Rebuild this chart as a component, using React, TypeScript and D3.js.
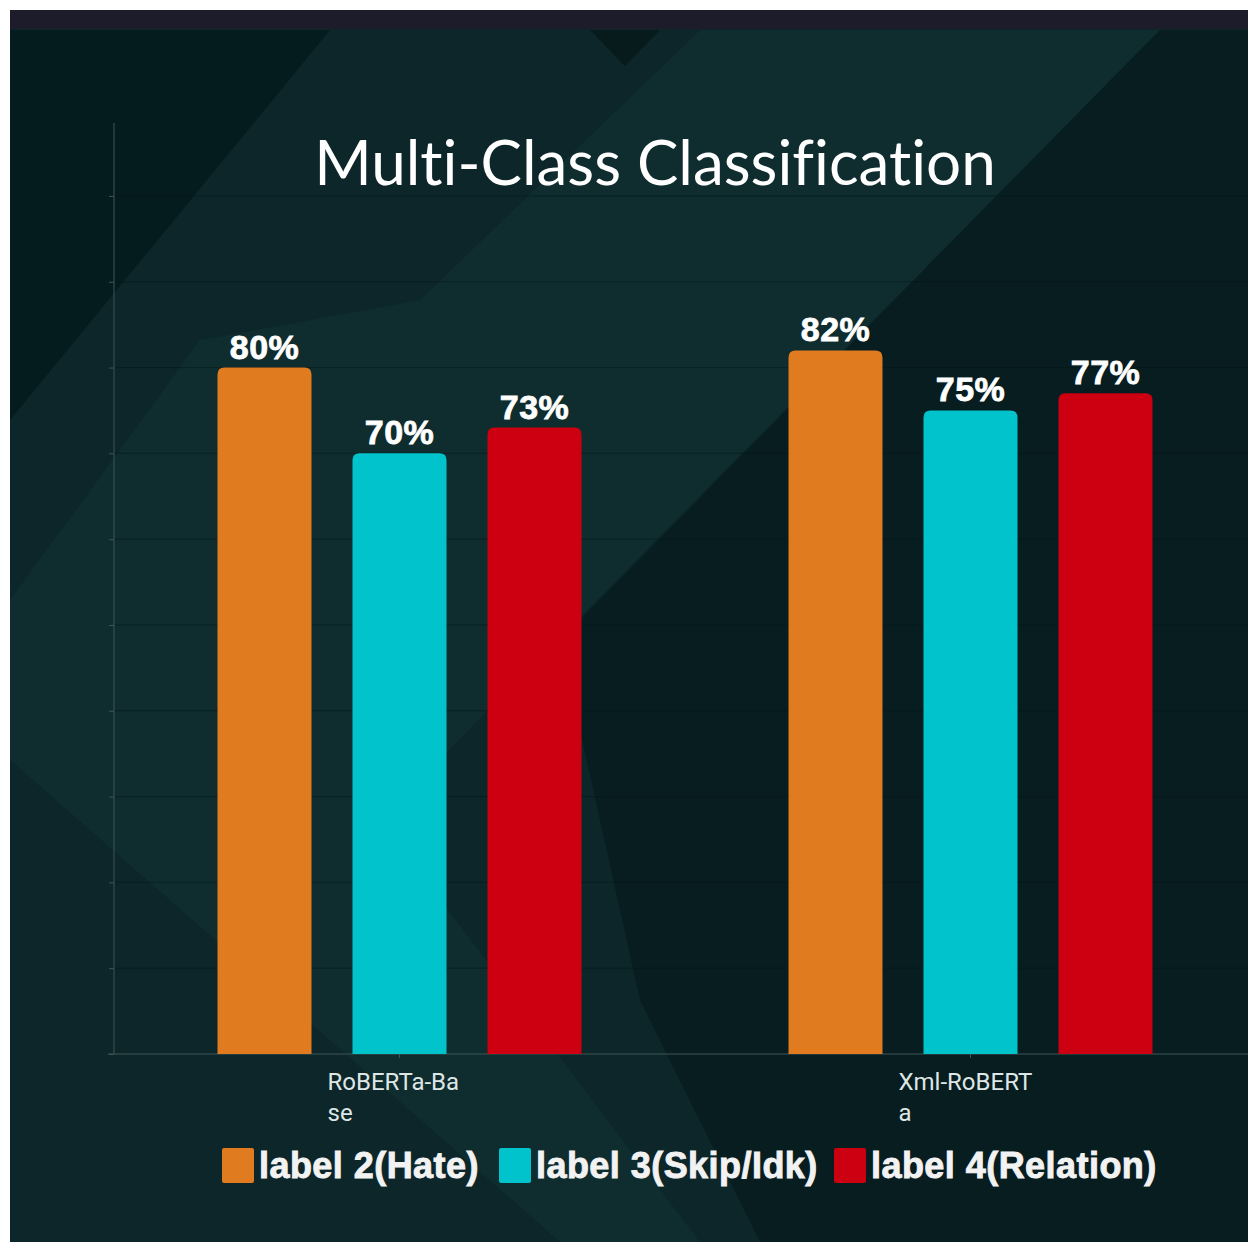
import React, { useEffect, useRef } from 'react';
import * as d3 from 'd3';

// chart data
const models = ['RoBERTa-Base', 'Xml-RoBERTa'];
const modelLines = [['RoBERTa-Ba', 'se'], ['Xml-RoBERT', 'a']];
const seriesNames = ['label 2(Hate)', 'label 3(Skip/Idk)', 'label 4(Relation)'];
const seriesColors = ['#e07b20', '#00c3cc', '#cc0010'];
const hateVals = [80, 82];
const skipVals = [70, 75];
const relationVals = [73, 77];
const yTicks = [0, 10, 20, 30, 40, 50, 60, 70, 80, 90, 100];

const W = 1253;
const H = 1244;

export default function App() {
  const ref = useRef<SVGSVGElement>(null);

  useEffect(() => {
    const svg = d3.select(ref.current);
    svg.selectAll('*').remove();

    // white page + dark slide background
    svg.append('rect').attr('width', W).attr('height', H).attr('fill', '#ffffff');
    const bg = svg.append('g');
    bg.append('rect').attr('x', 10).attr('y', 10).attr('width', 1238).attr('height', 1232).attr('fill', '#0c2629');
    // slightly lighter diagonal band
    bg.append('polygon')
      .attr('points', '10,600 10,760 560,1242 700,1242 380,820 1160,30 700,30 420,300 200,340')
      .attr('fill', '#102e30').attr('opacity', 0.8);
    // darker corners
    bg.append('polygon').attr('points', '10,30 330,30 10,420').attr('fill', '#051c1e');
    bg.append('polygon')
      .attr('points', '1160,30 1248,30 1248,1242 760,1242 640,1000 560,640')
      .attr('fill', '#071d20');
    bg.append('polygon').attr('points', '590,30 660,30 625,66').attr('fill', '#071a1c');
    bg.append('rect').attr('x', 10).attr('y', 10).attr('width', 1238).attr('height', 19).attr('fill', '#1c1c2a');

    const left = 114;
    const bottom = 1054;
    const x0 = d3.scaleBand<string>().domain(models).range([left, 1256]);
    const y = d3.scaleLinear().domain([0, 108.5]).range([bottom, 123]);
    const step = 135;
    const barW = 94;

    // gridlines
    bg.append('g').selectAll('line').data(yTicks.slice(1)).join('line')
      .attr('x1', left).attr('x2', 1248)
      .attr('y1', d => y(d)).attr('y2', d => y(d))
      .attr('stroke', '#041618').attr('stroke-width', 1).attr('opacity', 0.45);

    // y axis
    const yAxis = svg.append('g').attr('transform', `translate(${left},0)`)
      .call(d3.axisLeft(y).tickValues(yTicks).tickSize(5).tickFormat(() => ''));
    yAxis.select('.domain').attr('stroke', '#3f5557').attr('d', `M0,123V${bottom}`);
    yAxis.selectAll('.tick line').attr('stroke', '#3f5557');

    // x axis
    const xAxis = svg.append('g').attr('transform', `translate(0,${bottom})`)
      .call(d3.axisBottom(x0).tickSize(4).tickFormat(() => ''));
    xAxis.select('.domain').attr('stroke', '#3f5557').attr('d', `M${left - 6},0H1248`);
    xAxis.selectAll('.tick line').attr('stroke', '#3f5557');

    const series = [hateVals, skipVals, relationVals];
    const roundTop = (x: number, yt: number, w: number, h: number, r: number) =>
      `M${x},${yt + h}V${yt + r}Q${x},${yt} ${x + r},${yt}H${x + w - r}Q${x + w},${yt} ${x + w},${yt + r}V${yt + h}Z`;

    models.forEach((m, i) => {
      const cx = (x0(m) as number) + x0.bandwidth() / 2;
      series.forEach((vals, s) => {
        const bx = cx + (s - 1) * step - barW / 2;
        const yt = y(vals[i]);
        svg.append('path')
          .attr('d', roundTop(bx, yt, barW, bottom - yt, 7))
          .attr('fill', seriesColors[s]);
        svg.append('text')
          .attr('x', bx + barW / 2).attr('y', yt - 9)
          .attr('text-anchor', 'middle')
          .attr('font-family', 'Liberation Sans, Arial, sans-serif')
          .attr('font-weight', 'bold').attr('font-size', 34)
          .attr('letter-spacing', 0.5)
          .attr('fill', '#ffffff').attr('stroke', '#ffffff').attr('stroke-width', 0.8)
          .text(vals[i] + '%');
      });
      const lab = svg.append('text')
        .attr('font-family', 'Roboto, sans-serif').attr('font-size', 24)
        .attr('fill', '#dfe6e6');
      modelLines[i].forEach((ln, k) => {
        lab.append('tspan').attr('x', cx - 72).attr('y', 1090 + k * 31).text(ln);
      });
    });

    // title
    svg.append('text')
      .attr('x', 655).attr('y', 185).attr('text-anchor', 'middle')
      .attr('font-family', 'Lato, sans-serif').attr('font-size', 62)
      .style('font-variant-ligatures', 'none')
      .attr('fill', '#ffffff')
      .text('Multi-Class Classification');

    // legend
    const legendX = [222, 499, 834];
    const lg = svg.append('g');
    seriesNames.forEach((name, s) => {
      lg.append('rect').attr('x', legendX[s]).attr('y', 1148).attr('width', 32).attr('height', 35)
        .attr('rx', 2).attr('fill', seriesColors[s]);
      lg.append('text').attr('x', legendX[s] + 37).attr('y', 1178)
        .attr('font-family', 'Liberation Sans, Arial, sans-serif')
        .attr('font-weight', 'bold').attr('font-size', 36)
        .attr('letter-spacing', 0.45)
        .attr('fill', '#f2f2f2').attr('stroke', '#f2f2f2').attr('stroke-width', 0.9)
        .text(name);
    });
  }, []);

  return (
    <svg ref={ref} width={W} height={H}
      style={{ position: 'absolute', left: 0, top: 0, display: 'block' }} />
  );
}
